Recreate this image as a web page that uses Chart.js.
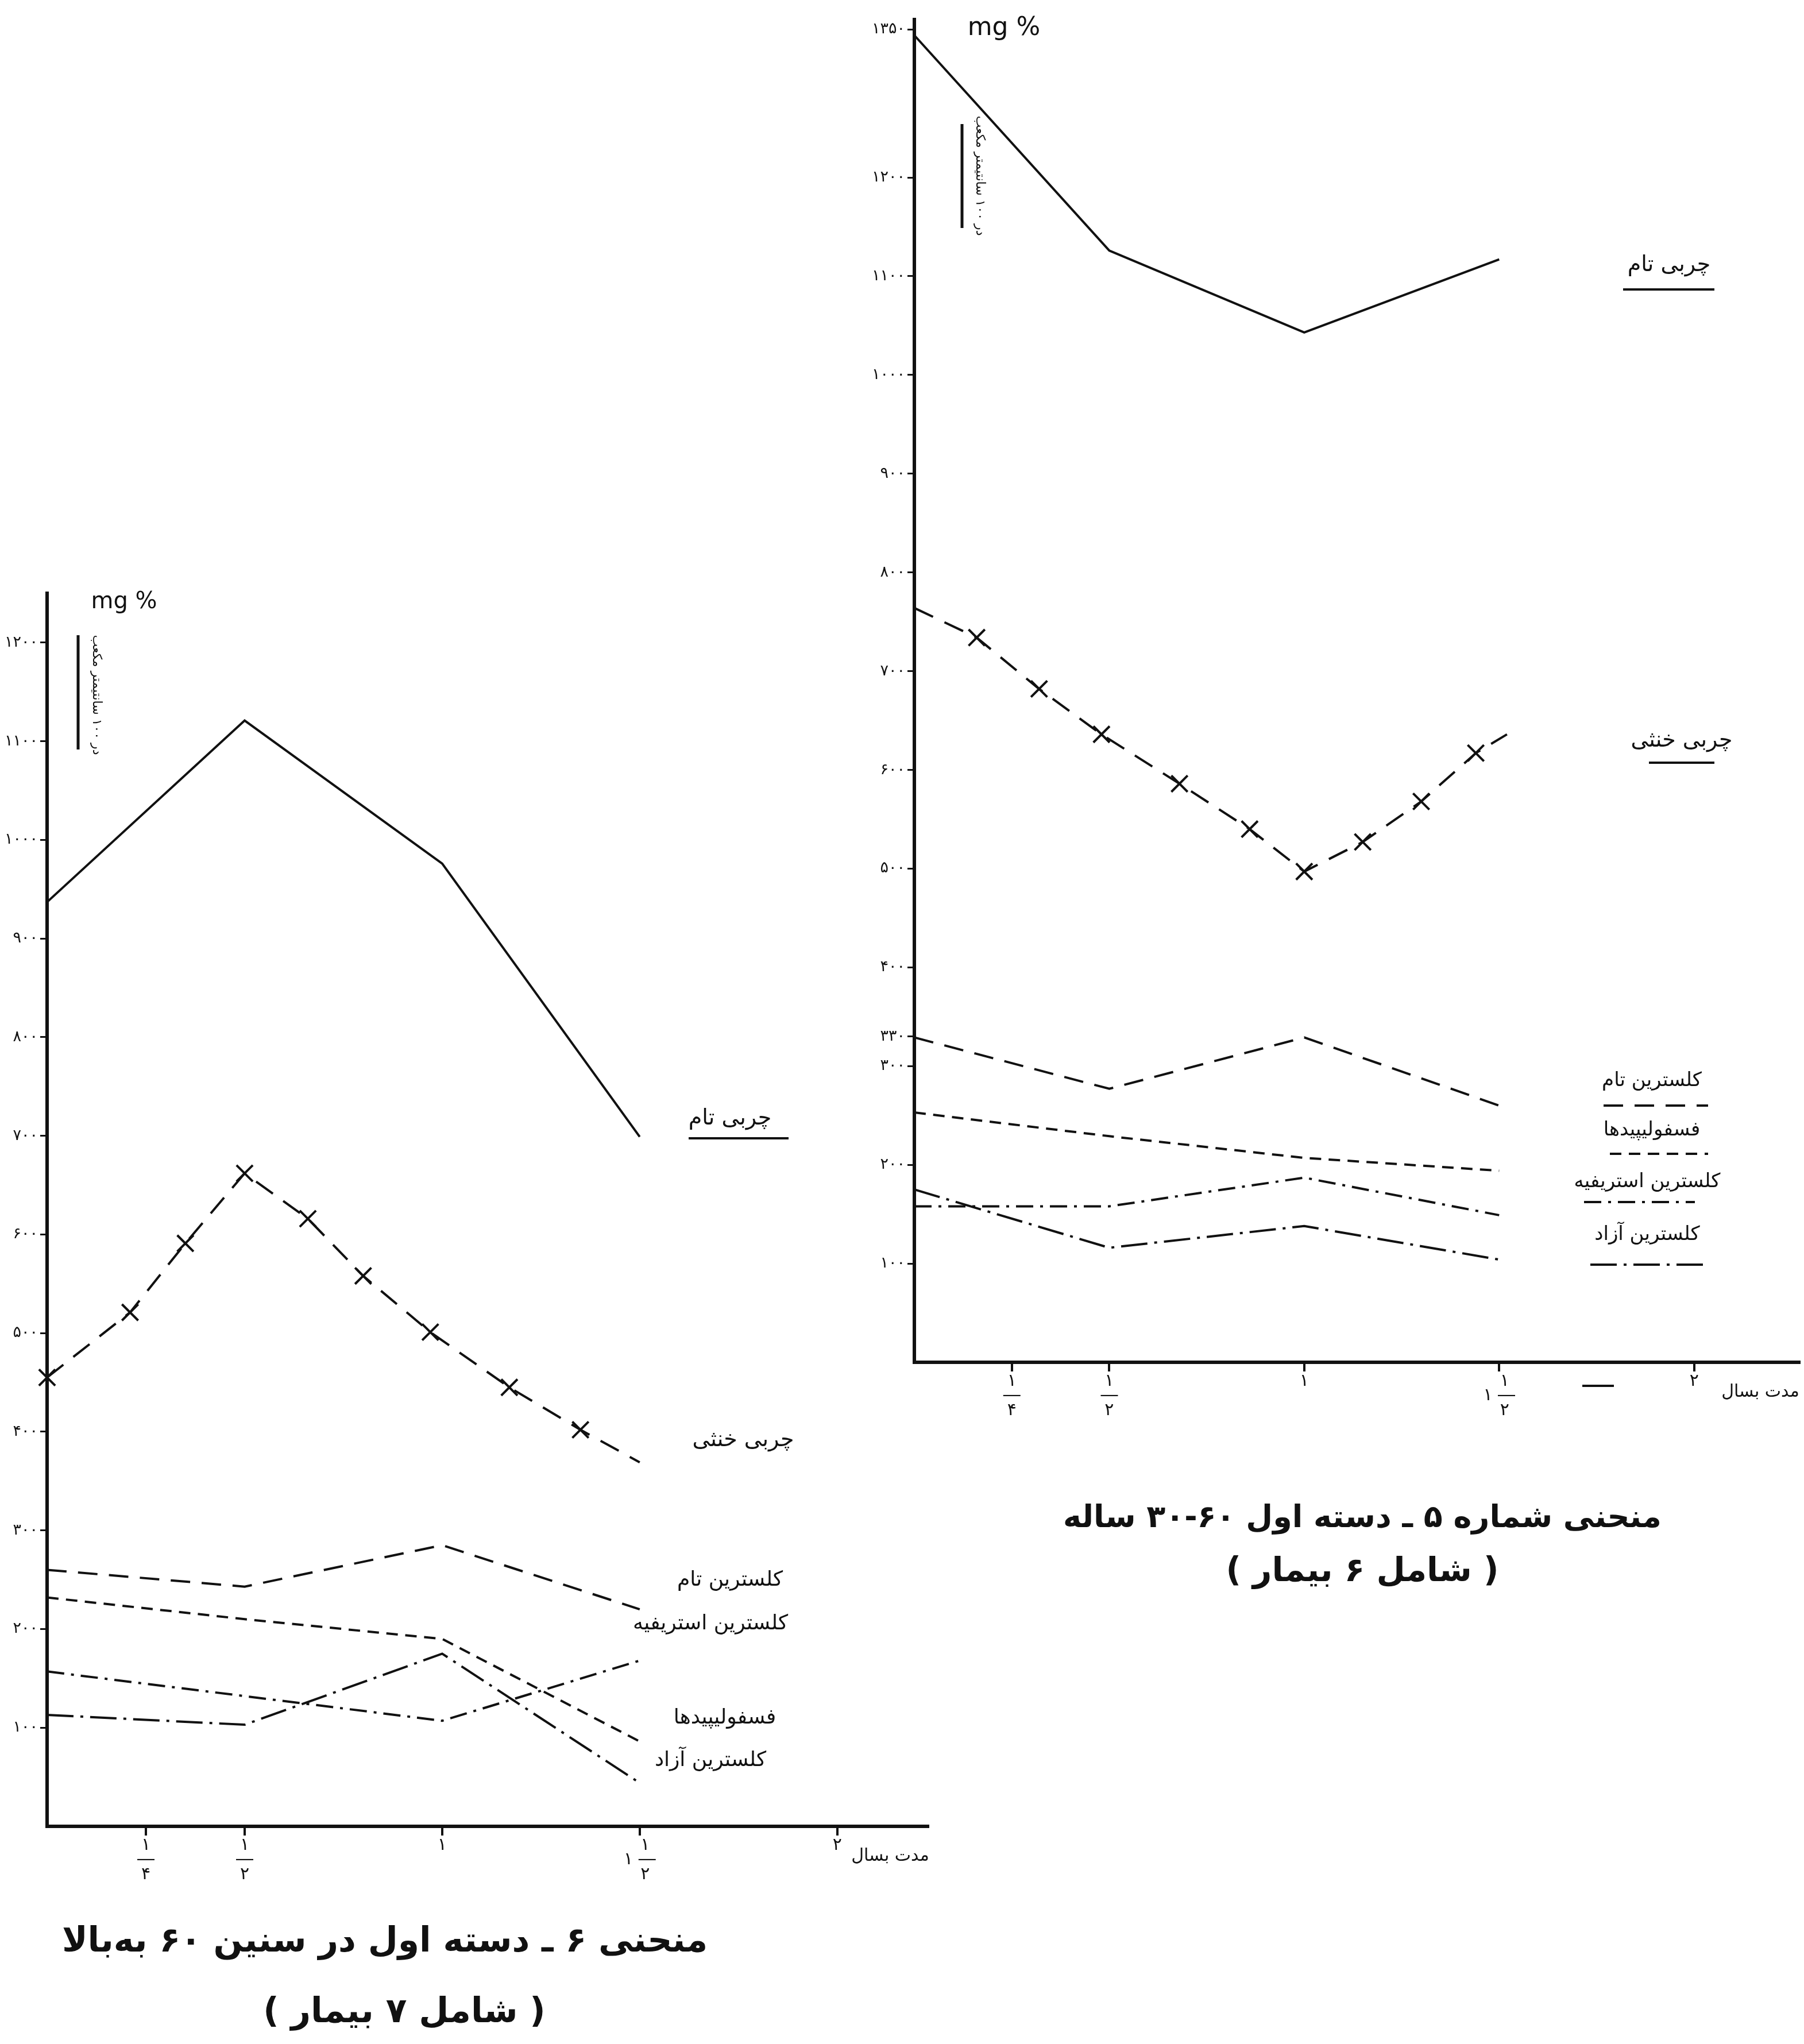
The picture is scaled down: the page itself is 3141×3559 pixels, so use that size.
<!DOCTYPE html>
<html>
<head>
<meta charset="utf-8">
<script src="https://cdn.jsdelivr.net/npm/chart.js@4"></script>
<style>
html,body{margin:0;padding:0;background:#fff;}
body{width:3141px;height:3559px;position:relative;overflow:hidden;}
canvas{position:absolute;left:0;top:0;}
</style>
</head>
<body>
<canvas id="c6" width="3141" height="3559"></canvas>
<canvas id="c5" width="3141" height="3559"></canvas>
<script>
// ---------------- data ----------------
const YEARS = [0, 0.5, 1, 1.5];
const X_TICKS = [0.25, 0.5, 1, 1.5, 2];
const X_TICK_LABELS = [['۱', '―', '۴'], ['۱', '―', '۲'], '۱', ['  ۱', '۱ ―', '  ۲'], '۲'];
const SERIES_NAMES = ['چربی تام', 'چربی خنثی', 'کلسترین تام', 'فسفولیپیدها', 'کلسترین استریفیه', 'کلسترین آزاد'];

// Chart 6 (left): 60 years and over, 7 patients
const C6_Y_TICKS = [100, 200, 300, 400, 500, 600, 700, 800, 900, 1000, 1100, 1200];
const C6_TOTAL_FAT = [937, 1121, 976, 699];
const C6_NEUTRAL_FAT_X = [0, 0.21, 0.35, 0.5, 0.66, 0.8, 0.97, 1.17, 1.35, 1.5];
const C6_NEUTRAL_FAT = [455, 521, 591, 662, 616, 558, 501, 445, 402, 369];
const C6_NEUTRAL_MARK = [1, 1, 1, 1, 1, 1, 1, 1, 1, 0];
const C6_TOTAL_CHOL = [260, 243, 285, 220];
const C6_PHOSPHO = [232, 210, 190, 86];
const C6_ESTER = [157, 132, 107, 168];
const C6_FREE = [113, 103, 175, 44];

// Chart 5 (right): 30-60 years, 6 patients
const C5_Y_TICKS = [100, 200, 300, 330, 400, 500, 600, 700, 800, 900, 1000, 1100, 1200, 1350];
const C5_TOTAL_FAT = [1344, 1126, 1043, 1117];
const C5_NEUTRAL_FAT_X = [0, 0.16, 0.32, 0.48, 0.68, 0.86, 1.0, 1.15, 1.3, 1.44, 1.52];
const C5_NEUTRAL_FAT = [764, 734, 682, 636, 586, 540, 497, 527, 568, 617, 636];
const C5_NEUTRAL_MARK = [0, 1, 1, 1, 1, 1, 1, 1, 1, 1, 0];
const C5_TOTAL_CHOL = [329, 277, 329, 260];
const C5_PHOSPHO = [253, 229, 207, 194];
const C5_ESTER = [158, 158, 187, 149];
const C5_FREE = [175, 116, 138, 104];

// ---------------- styling ----------------
const INK = '#111';
const FAM = '"DejaVu Sans", "Noto Sans", sans-serif';
const DASH = {
  solid: [],
  neutral: [36, 22],
  totalChol: [34, 20],
  phospho: [20, 13],
  ester: [30, 12, 5, 12],
  free: [46, 12, 5, 12]
};
const FA = s => String(s).replace(/\d/g, d => '۰۱۲۳۴۵۶۷۸۹'[+d]);

function series(xs, ys, dash, extra) {
  return Object.assign({
    data: xs.map((x, i) => ({ x: x, y: ys[i] })),
    borderColor: INK,
    borderWidth: 4,
    borderDash: dash,
    pointRadius: 0,
    fill: false,
    tension: 0,
    clip: false
  }, extra || {});
}
function neutral(xs, ys, marks) {
  return series(xs, ys, DASH.neutral, {
    pointStyle: 'crossRot',
    pointRadius: marks.map(m => m ? 20 : 0),
    pointBorderWidth: 4,
    pointBorderColor: INK,
    pointBackgroundColor: INK
  });
}

function annot(items) {
  return {
    id: 'annot',
    afterDraw(chart) {
      const ctx = chart.ctx;
      items.forEach(it => {
        ctx.save();
        ctx.fillStyle = INK;
        ctx.strokeStyle = INK;
        if (it.k === 'text') {
          ctx.font = (it.bold ? 'bold ' : '') + it.size + 'px ' + FAM;
          ctx.direction = it.ltr ? 'ltr' : 'rtl';
          ctx.textAlign = 'center';
          ctx.textBaseline = 'middle';
          ctx.translate(it.x, it.y);
          if (it.rot) ctx.rotate(it.rot);
          ctx.fillText(it.t, 0, 0);
        } else if (it.k === 'line') {
          ctx.lineWidth = it.w || 4;
          ctx.setLineDash(it.dash || []);
          ctx.beginPath();
          ctx.moveTo(it.x1, it.y1);
          ctx.lineTo(it.x2, it.y2);
          ctx.stroke();
        }
        ctx.restore();
      });
    }
  };
}

function makeChart(id, cfg) {
  return new Chart(document.getElementById(id), {
    type: 'line',
    data: { datasets: cfg.datasets },
    options: {
      responsive: false,
      animation: false,
      devicePixelRatio: 1,
      layout: { padding: cfg.padding },
      plugins: { legend: { display: false }, tooltip: { enabled: false }, title: { display: false } },
      scales: {
        x: {
          type: 'linear', min: 0, max: cfg.xMax,
          afterBuildTicks: s => { s.ticks = X_TICKS.map(v => ({ value: v })); },
          afterFit: s => { s.height = 110; },
          ticks: {
            autoSkip: false, maxRotation: 0, minRotation: 0, color: INK, padding: 4,
            font: { family: FAM, size: 30, lineHeight: 0.85 },
            callback: v => X_TICK_LABELS[X_TICKS.indexOf(v)]
          },
          grid: { drawOnChartArea: false, drawTicks: true, tickLength: 16, color: INK, lineWidth: 4 },
          border: { display: true, color: INK, width: 6 }
        },
        y: {
          type: 'linear', min: 0, max: cfg.yMax,
          afterBuildTicks: s => { s.ticks = cfg.yTicks.map(v => ({ value: v })); },
          afterFit: s => { s.width = cfg.yW; },
          ticks: { autoSkip: false, color: INK, padding: 4, font: { family: FAM, size: 27 }, callback: v => FA(v) },
          grid: { drawOnChartArea: false, drawTicks: true, tickLength: 12, color: INK, lineWidth: 3 },
          border: { display: true, color: INK, width: 6 }
        }
      }
    },
    plugins: [annot(cfg.notes)]
  });
}

const VNOTE = 'در ۱۰۰ سانتیمتر مکعب';

// ---------------- chart 6 (left) ----------------
makeChart('c6', {
  xMax: 2.23, yMax: 1250, yTicks: C6_Y_TICKS, yW: 82,
  padding: { left: 0, top: 1033, right: 1525, bottom: 269 },
  datasets: [
    series(YEARS, C6_TOTAL_FAT, DASH.solid),
    neutral(C6_NEUTRAL_FAT_X, C6_NEUTRAL_FAT, C6_NEUTRAL_MARK),
    series(YEARS, C6_TOTAL_CHOL, DASH.totalChol),
    series(YEARS, C6_PHOSPHO, DASH.phospho),
    series(YEARS, C6_ESTER, DASH.ester),
    series(YEARS, C6_FREE, DASH.free)
  ],
  notes: [
    { k: 'text', t: 'mg %', x: 216, y: 1049, size: 40, ltr: true },
    { k: 'line', x1: 136, y1: 1106, x2: 136, y2: 1305, w: 5 },
    { k: 'text', t: VNOTE, x: 168, y: 1210, size: 22, rot: Math.PI / 2 },
    { k: 'text', t: SERIES_NAMES[0], x: 1271, y: 1948, size: 38 },
    { k: 'line', x1: 1199, y1: 1982, x2: 1373, y2: 1982, w: 4 },
    { k: 'text', t: SERIES_NAMES[1], x: 1294, y: 2508, size: 38 },
    { k: 'text', t: SERIES_NAMES[2], x: 1271, y: 2752, size: 36 },
    { k: 'text', t: SERIES_NAMES[4], x: 1237, y: 2828, size: 36 },
    { k: 'text', t: SERIES_NAMES[3], x: 1262, y: 2992, size: 36 },
    { k: 'text', t: SERIES_NAMES[5], x: 1237, y: 3066, size: 36 },
    { k: 'text', t: 'مدت بسال', x: 1550, y: 3232, size: 30 },
    { k: 'text', t: 'منحنی ۶ ـ دسته اول در سنین ۶۰ به‌بالا', x: 670, y: 3382, size: 60, bold: true },
    { k: 'text', t: '( شامل ۷ بیمار )', x: 704, y: 3505, size: 60, bold: true }
  ]
});

// ---------------- chart 5 (right) ----------------
makeChart('c5', {
  xMax: 2.27, yMax: 1360, yTicks: C5_Y_TICKS, yW: 92,
  padding: { left: 1500, top: 34, right: 8, bottom: 1077 },
  datasets: [
    series(YEARS, C5_TOTAL_FAT, DASH.solid),
    neutral(C5_NEUTRAL_FAT_X, C5_NEUTRAL_FAT, C5_NEUTRAL_MARK),
    series(YEARS, C5_TOTAL_CHOL, DASH.totalChol),
    series(YEARS, C5_PHOSPHO, DASH.phospho),
    series(YEARS, C5_ESTER, DASH.ester),
    series(YEARS, C5_FREE, DASH.free)
  ],
  notes: [
    { k: 'text', t: 'mg %', x: 1748, y: 50, size: 44, ltr: true },
    { k: 'line', x1: 1675, y1: 216, x2: 1675, y2: 397, w: 5 },
    { k: 'text', t: VNOTE, x: 1706, y: 306, size: 22, rot: Math.PI / 2 },
    { k: 'text', t: SERIES_NAMES[0], x: 2906, y: 462, size: 38 },
    { k: 'line', x1: 2826, y1: 504, x2: 2985, y2: 504, w: 4 },
    { k: 'text', t: SERIES_NAMES[1], x: 2928, y: 1290, size: 38 },
    { k: 'line', x1: 2871, y1: 1328, x2: 2985, y2: 1328, w: 4 },
    { k: 'text', t: SERIES_NAMES[2], x: 2876, y: 1882, size: 34 },
    { k: 'line', x1: 2792, y1: 1925, x2: 2974, y2: 1925, w: 4, dash: DASH.totalChol },
    { k: 'text', t: SERIES_NAMES[3], x: 2876, y: 1968, size: 34 },
    { k: 'line', x1: 2803, y1: 2009, x2: 2974, y2: 2009, w: 4, dash: DASH.phospho },
    { k: 'text', t: SERIES_NAMES[4], x: 2868, y: 2058, size: 34 },
    { k: 'line', x1: 2758, y1: 2093, x2: 2951, y2: 2093, w: 4, dash: DASH.ester },
    { k: 'text', t: SERIES_NAMES[5], x: 2868, y: 2150, size: 34 },
    { k: 'line', x1: 2769, y1: 2202, x2: 2974, y2: 2202, w: 4, dash: DASH.free },
    { k: 'line', x1: 2755, y1: 2413, x2: 2810, y2: 2413, w: 4 },
    { k: 'text', t: 'مدت بسال', x: 3065, y: 2424, size: 30 },
    { k: 'text', t: 'منحنی شماره ۵ ـ دسته اول ۶۰-۳۰ ساله', x: 2372, y: 2645, size: 54, bold: true },
    { k: 'text', t: '( شامل ۶ بیمار )', x: 2372, y: 2738, size: 58, bold: true }
  ]
});
</script>
</body>
</html>
